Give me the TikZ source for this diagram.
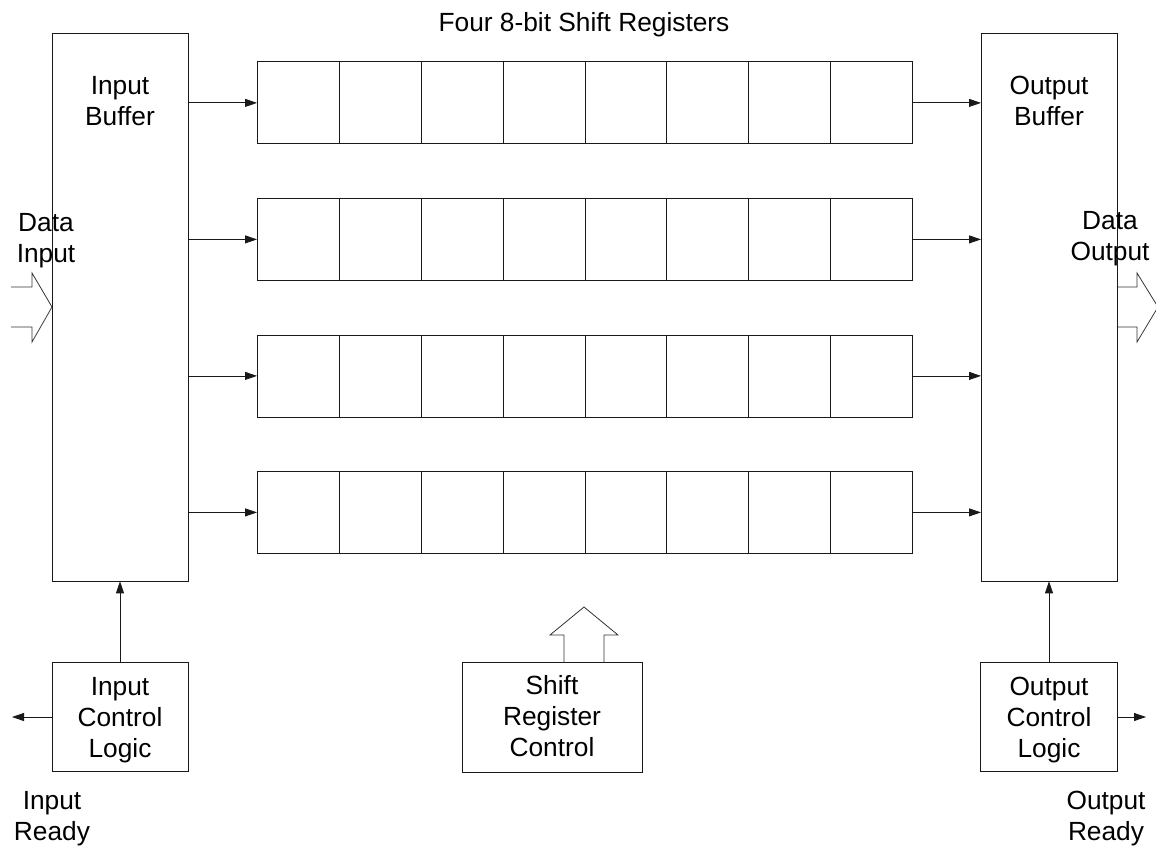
\documentclass[tikz,border=0pt]{standalone}
\usepackage{fontspec}
\setmainfont{Liberation Sans}
\usetikzlibrary{arrows.meta}
\begin{document}
\begin{tikzpicture}[x=1pt,y=-1pt,
  ln/.style={draw=black!90,line width=0.8pt},
  box/.style={ln,rectangle,inner sep=0pt,anchor=north west},
  cell/.style={ln,rectangle,inner sep=0pt,minimum width=81.875pt,minimum height=82pt,anchor=north west},
  lbl/.style={font=\fontsize{26.3}{30.8}\selectfont,align=center,inner sep=0pt},
  arr/.style={ln,-{Triangle[length=12pt,width=8pt]}},
  fat/.style={draw=black!80,line width=0.8pt,line join=miter}
]
\useasboundingbox (0,0) rectangle (1156,848);
% title
\node[lbl,anchor=base] (title) at (584,32) {Four 8-bit Shift Registers};
% buffers
\node[box,minimum width=136pt,minimum height=547pt] (ib) at (52,33.5) {};
\node[box,minimum width=136pt,minimum height=547pt] (ob) at (981,33.5) {};
\node[lbl,anchor=base] (ibt) at (120,125) {Input\\Buffer};
\node[lbl,anchor=base] (obt) at (1049,125) {Output\\Buffer};
% registers
\foreach \r/\ty in {1/61.5,2/198,3/334.5,4/471}{
  \foreach \c in {1,...,8}{
    \node[cell] (r\r c\c) at ({257+(\c-1)*81.875},\ty) {};
  }
  \draw[arr] (ib.east |- r\r c1.west) -- (r\r c1.west);
  \draw[arr] (r\r c8.east) -- (ob.west |- r\r c8.east);
}
% control boxes
\node[box,minimum width=136pt,minimum height=109pt] (icl) at (52,662) {};
\node[box,minimum width=137pt,minimum height=109pt] (ocl) at (980,662) {};
\node[box,minimum width=180pt,minimum height=110pt] (src) at (462,662) {};
\node[lbl,anchor=base] (iclt) at (120,757) {Input\\Control\\Logic};
\node[lbl,anchor=base] (oclt) at (1049,757) {Output\\Control\\Logic};
\node[lbl,anchor=base] (srct) at (552,756) {Shift\\Register\\Control};
% control arrows
\draw[arr] (icl.north -| 120,0) -- (ib.south -| 120,0);
\draw[arr] (ocl.north -| 1049,0) -- (ob.south -| 1049,0);
\coordinate (ir) at (12,717);
\coordinate (orr) at (1146,717);
\draw[arr] (icl.west |- ir) -- (ir);
\draw[arr] (ocl.east |- orr) -- (orr);
% external labels
\node[lbl,anchor=base] (dit) at (46,262) {Data\\Input};
\node[lbl,anchor=base] (dot) at (1110,260) {Data\\Output};
\node[lbl,anchor=base] (irt) at (52,840) {Input\\Ready};
\node[lbl,anchor=base] (ort) at (1106,840) {Output\\Ready};
% data input block arrow
\draw[fat] (11,287) -- (32,287) -- (32,273) -- (ib.west |- 0,307) -- (32,342) -- (32,327) -- (11,327);
% data output block arrow
\draw[fat] (ob.east |- 0,287) -- (1137,287) -- (1137,273) -- (1158,307) -- (1137,342) -- (1137,327) -- (ob.east |- 0,327);
% shift register control block arrow
\draw[fat] (src.north -| 564,0) -- (564,635) -- (550,635) -- (584,607) -- (618,635) -- (604,635) -- (src.north -| 604,0);
\end{tikzpicture}
\end{document}
